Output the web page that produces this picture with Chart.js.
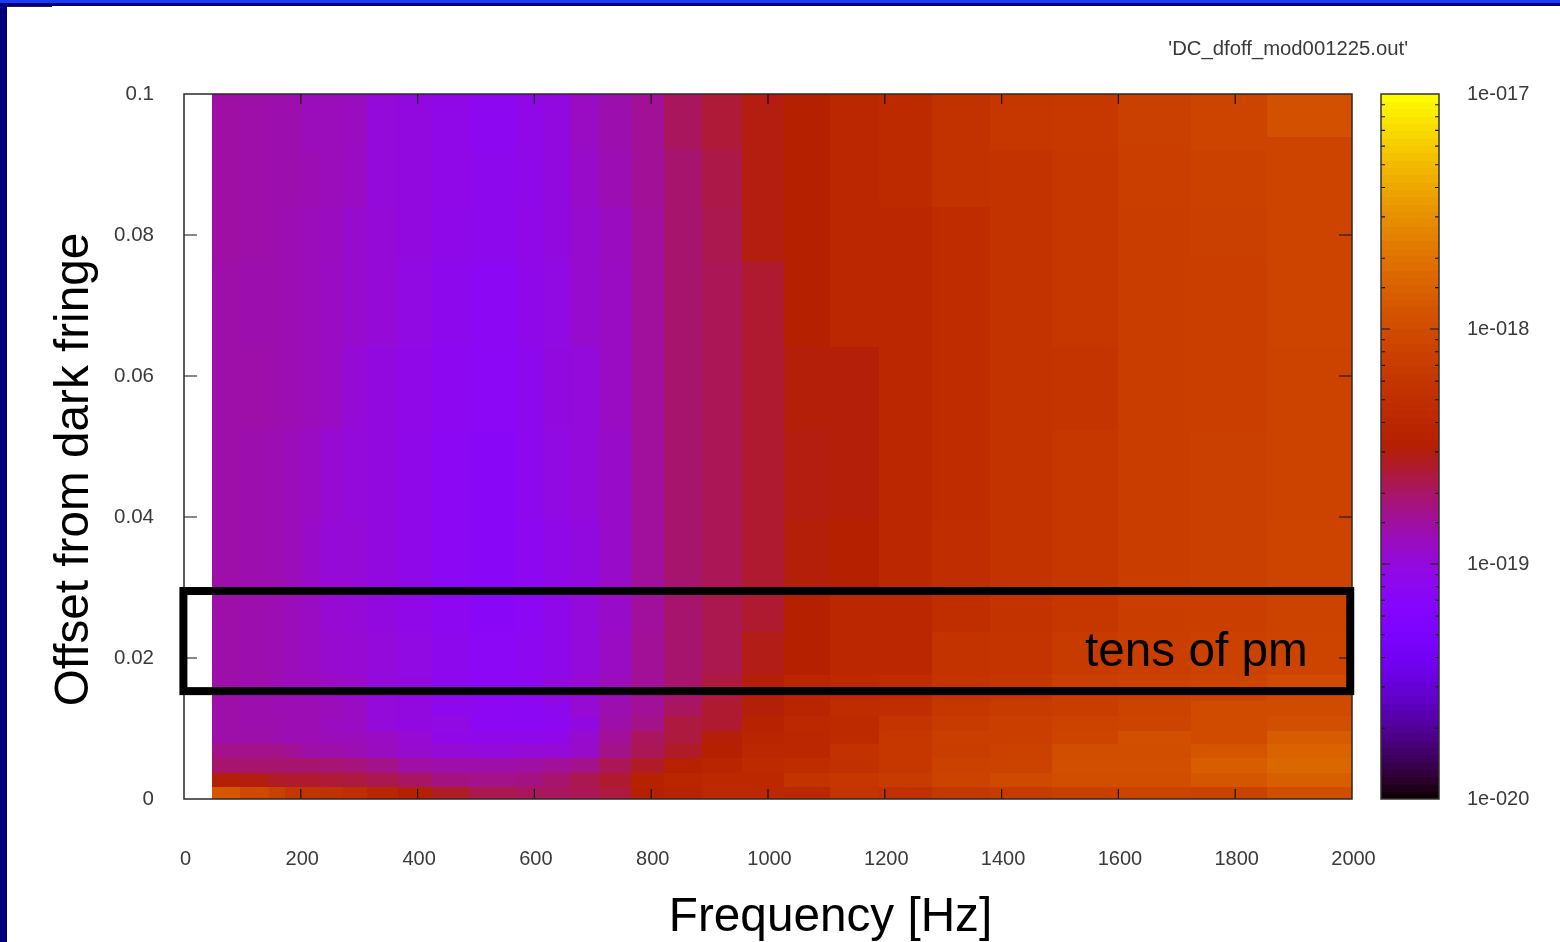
<!DOCTYPE html>
<html>
<head>
<meta charset="utf-8">
<title>DC offset scan</title>
<style>
  html, body { margin: 0; padding: 0; background: #fff; overflow: hidden; }
  #page { position: relative; width: 1560px; height: 942px; background: #fff; }
  #page canvas { position: absolute; top: 0; }
  #plot { left: 0; }
  #colorbar { left: 1360px; }
  .bar { position: absolute; }
  #topBlue { left: 0; top: 0; width: 1560px; height: 3px; background: #1c3cf4; }
  #topNavy { left: 0; top: 3px; width: 1560px; height: 3px; background: #00007c; }
  #leftNavy { left: 0; top: 3px; width: 7px; height: 939px; background: #00007c; }
  #stub { left: 7px; top: 6px; width: 45px; height: 1px; background: #223; }
</style>
<script src="https://cdn.jsdelivr.net/npm/chart.js@4"></script>
</head>
<body>
<div id="page">
  <canvas id="plot" width="1560" height="942"></canvas>
  <canvas id="colorbar" width="200" height="942"></canvas>
  <div class="bar" id="topBlue"></div>
  <div class="bar" id="topNavy"></div>
  <div class="bar" id="leftNavy"></div>
  <div class="bar" id="stub"></div>
</div>
<script>
const freqTickLabels = ["0", "200", "400", "600", "800", "1000", "1200", "1400", "1600", "1800", "2000"];
const offsetTickLabels = ["0", "0.02", "0.04", "0.06", "0.08", "0.1"];

// cell edges
const freqEdges = [48, 96, 146, 173, 202, 235, 272, 313, 366, 425, 490, 568, 615, 661, 711, 765, 822, 887, 955, 1027, 1106, 1190, 1281, 1380, 1486, 1599, 1724, 1854, 2000];
const offsetEdges = [0, 0.0017, 0.0037, 0.0058, 0.0078, 0.0097, 0.0118, 0.0139, 0.0176, 0.0237, 0.0296, 0.0396, 0.0523, 0.0641, 0.0762, 0.084, 0.0921, 0.0939, 0.1];

// position on the log colour range (percent), bottom row first
const psdLevel = [
  [70, 66, 63, 60, 59, 58, 56, 53, 50, 47.5, 45, 44, 44, 44.5, 46, 50.5, 52, 54.5, 54.5, 54, 59, 57.5, 60, 61.5, 62.5, 64, 63.5, 67],
  [49.5, 49, 47.5, 47, 47, 46.5, 46, 45, 43.5, 41.5, 41, 41.5, 43, 45, 47, 51, 53, 54.5, 54.5, 58.5, 60, 61.5, 64, 66, 67, 67, 69.5, 72],
  [43, 43, 43, 43, 43, 42.5, 42, 41, 39, 38.5, 38.5, 39, 40, 41, 44.5, 47.5, 51, 52.5, 55, 55.5, 57.5, 60, 63.5, 64, 67.5, 67.5, 71.5, 74],
  [41, 41, 41, 40, 38.5, 38.5, 37.5, 36.5, 35, 34, 33.5, 34, 34, 35.5, 41, 44.5, 47.5, 50.5, 54, 54, 58, 60, 62, 63.5, 67, 67, 69, 73],
  [38.5, 38.5, 38, 37.5, 37.5, 37, 37, 36, 34.5, 32, 31.5, 31.5, 32, 35, 40, 44, 46, 49.5, 52.5, 54, 55, 60, 62.5, 62.5, 64.5, 67.5, 66.5, 71],
  [38.5, 38, 38, 37.5, 37.5, 36.5, 36, 33.5, 33, 32.5, 30, 30, 30.5, 33, 38.5, 41, 46, 47, 51.5, 54.5, 55, 59, 61.5, 62.5, 64, 64.5, 66.5, 67.5],
  [38.5, 38, 37.5, 37.5, 37.5, 37, 36, 33.5, 33, 31, 30.5, 30, 31, 34.5, 38, 40, 44, 47, 49.5, 52.5, 55.5, 56, 60, 61, 62, 64, 66.5, 66.5],
  [38.5, 38, 37.5, 37, 37, 36, 35.5, 33.5, 33, 31, 30, 30.5, 33, 34.5, 37, 40, 43, 46, 49.5, 53, 55, 55.5, 59, 60, 62.5, 63.5, 64.5, 66.5],
  [38.5, 38, 37.5, 37, 36, 35, 34.5, 33.5, 32.5, 31, 29.5, 30.5, 31.5, 33.5, 36, 40, 43, 45, 48.5, 50.5, 54, 54, 58.5, 59, 61, 62.5, 63.5, 64.5],
  [38.5, 38, 37.5, 37, 36, 34.5, 34, 33, 32, 30.5, 29, 30, 31.5, 33.5, 35.5, 39.5, 43, 45, 47, 50.5, 54, 54, 56.5, 58.5, 60, 62, 62.5, 64],
  [38.5, 38, 37.5, 37, 35.5, 34, 34, 33, 31.5, 30, 29, 30.5, 32, 33, 35.5, 39.5, 43, 44.5, 47, 49.5, 50, 54, 56, 58.5, 60, 62, 63, 64.5],
  [38.5, 38, 37.5, 37, 36, 34.5, 33.5, 33, 31.5, 30, 29, 31, 32.5, 33.5, 35.5, 39.5, 43, 44.5, 47, 49, 49.5, 54, 55.5, 58.5, 60, 62, 63, 64],
  [38.5, 38.5, 38, 37.5, 37, 36, 34, 33, 32, 30.5, 29.5, 31, 33, 33.5, 36, 39.5, 43, 44.5, 47, 49.5, 49.5, 54, 55.5, 58.5, 59, 62, 62.5, 64],
  [38.5, 38, 38, 37.5, 37, 36, 35, 34, 32.5, 31, 30, 31.5, 32.5, 35, 36, 39.5, 43, 44.5, 47, 50.5, 53.5, 54, 55.5, 58.5, 60, 62, 62.5, 64.5],
  [39, 38.5, 38, 37.5, 37, 36.5, 35, 34, 33, 31.5, 31, 32, 33, 35, 36.5, 39.5, 43, 45, 49, 50.5, 53.5, 54, 55.5, 58.5, 60, 62, 63, 64.5],
  [39, 38.5, 38, 38, 37.5, 37, 36, 33.5, 33, 32, 31, 31.5, 33, 35.5, 37.5, 40, 43, 45.5, 49, 50.5, 54, 55, 58, 58.5, 60, 62.5, 63.5, 64.5],
  [39, 38.5, 38, 38, 37, 37, 36.5, 33.5, 33, 32, 30.5, 32, 33, 36, 38, 40, 44, 46.5, 49, 50.5, 54, 55, 58, 60, 60.5, 63, 64.5, 64.5],
  [39, 38.5, 38, 38, 37, 37, 36.5, 33.5, 33, 32, 30.5, 32, 33, 36, 38, 40, 44, 46.5, 49, 50.5, 54, 55, 58, 60, 60.5, 63, 64.5, 68]
];

const colorbarBands = 96;
const psdMin = 1e-20;
const psdMax = 1e-17;

// gnuplot default pm3d palette (rgbformulae 7,5,15)
function paletteColor(g) {
  const r = Math.sqrt(g);
  const gr = g * g * g;
  const b = Math.max(0, Math.sin(2 * Math.PI * g));
  return `rgb(${Math.round(r * 255)}, ${Math.round(gr * 255)}, ${Math.round(b * 255)})`;
}

const cellPoints = [];
psdLevel.forEach((row, j) => {
  row.forEach((level, i) => {
    cellPoints.push({
      x: (freqEdges[i] + freqEdges[i + 1]) / 2,
      y: (offsetEdges[j] + offsetEdges[j + 1]) / 2,
      x0: freqEdges[i],
      x1: freqEdges[i + 1],
      y0: offsetEdges[j],
      y1: offsetEdges[j + 1],
      level: level / 100,
    });
  });
});

const heatmapPlugin = {
  id: "heatmap",
  beforeDatasetsDraw(chart) {
    const { ctx, scales } = chart;
    chart.data.datasets[0].data.forEach((c) => {
      const left = Math.round(scales.x.getPixelForValue(c.x0));
      const right = Math.round(scales.x.getPixelForValue(c.x1));
      const top = Math.round(scales.y.getPixelForValue(c.y1));
      const bottom = Math.round(scales.y.getPixelForValue(c.y0));
      ctx.fillStyle = paletteColor(c.level);
      ctx.fillRect(left, top, right - left, bottom - top);
    });
  },
  afterDatasetsDraw(chart) {
    const { ctx, scales, chartArea } = chart;
    const { left, right, top, bottom } = chartArea;
    ctx.save();
    // inward ticks on all four sides
    ctx.strokeStyle = "#111";
    ctx.lineWidth = 1.2;
    ctx.beginPath();
    scales.x.ticks.forEach((t, i) => {
      if (i === 0 || i === scales.x.ticks.length - 1) return;
      const px = scales.x.getPixelForTick(i);
      ctx.moveTo(px, bottom);
      ctx.lineTo(px, bottom - 10);
      ctx.moveTo(px, top);
      ctx.lineTo(px, top + 10);
    });
    scales.y.ticks.forEach((t, i) => {
      if (i === 0 || i === scales.y.ticks.length - 1) return;
      const py = scales.y.getPixelForTick(i);
      ctx.moveTo(left, py);
      ctx.lineTo(left + 13, py);
      ctx.moveTo(right, py);
      ctx.lineTo(right - 13, py);
    });
    ctx.stroke();
    ctx.strokeStyle = "#2a2a2a";
    ctx.lineWidth = 1.5;
    ctx.strokeRect(left, top, right - left, bottom - top);

    // highlighted band
    ctx.strokeStyle = "#000";
    ctx.lineWidth = 8;
    const bx0 = scales.x.getPixelForValue(-1);
    const bx1 = scales.x.getPixelForValue(1997);
    const by0 = scales.y.getPixelForValue(0.0295);
    const by1 = scales.y.getPixelForValue(0.0153);
    ctx.strokeRect(bx0, by0, bx1 - bx0, by1 - by0);

    // labels
    ctx.fillStyle = "#000";
    ctx.textBaseline = "alphabetic";
    ctx.font = '47.7px "Liberation Sans"';
    ctx.textAlign = "left";
    ctx.fillText("tens of pm", 1085, 666);
    ctx.textAlign = "center";
    ctx.fillText("Frequency [Hz]", 830.5, 931);
    ctx.save();
    ctx.translate(88, 469.5);
    ctx.rotate(-Math.PI / 2);
    ctx.fillText("Offset from dark fringe", 0, 0);
    ctx.restore();
    ctx.fillStyle = "#3a3a3a";
    ctx.font = '20.3px "Liberation Sans"';
    ctx.textAlign = "right";
    ctx.fillText("'DC_dfoff_mod001225.out'", 1408, 55);
    ctx.restore();
  },
};

new Chart(document.getElementById("plot"), {
  type: "scatter",
  data: {
    datasets: [{ label: "DC_dfoff_mod001225.out", data: cellPoints, pointRadius: 0, showLine: false }],
  },
  options: {
    responsive: false,
    animation: false,
    devicePixelRatio: 1,
    layout: { padding: { left: 0, top: 94, right: 208, bottom: 0 } },
    plugins: { legend: { display: false }, tooltip: { enabled: false } },
    scales: {
      x: {
        type: "linear",
        min: 0,
        max: 2000,
        grid: { display: false, drawTicks: false },
        border: { display: false },
        afterFit: (scale) => { scale.height = 143; },
        ticks: {
          stepSize: 200,
          autoSkip: false,
          maxRotation: 0,
          padding: 48,
          labelOffset: 1.5,
          color: "#3a3a3a",
          font: { family: "Liberation Sans", size: 20 },
          callback: (v, i) => freqTickLabels[i],
        },
      },
      y: {
        type: "linear",
        min: 0,
        max: 0.1,
        grid: { display: false, drawTicks: false },
        border: { display: false },
        afterFit: (scale) => { scale.width = 184; },
        ticks: {
          stepSize: 0.02,
          autoSkip: false,
          padding: 30,
          color: "#3a3a3a",
          font: { family: "Liberation Sans", size: 20.5 },
          callback: (v, i) => offsetTickLabels[i],
        },
      },
    },
  },
  plugins: [heatmapPlugin],
});

// colour key as a second chart with its own log axis
const bandPoints = [];
for (let b = 0; b < colorbarBands; b++) {
  bandPoints.push({ x: 0.5, y: psdMin * Math.pow(psdMax / psdMin, (b + 0.5) / colorbarBands), g: (b + 0.5) / colorbarBands });
}

const isDecade = (v) => Math.abs(Math.log10(v) - Math.round(Math.log10(v))) < 1e-6;

const colorbarPlugin = {
  id: "colorbarBands",
  beforeDatasetsDraw(chart) {
    const { ctx, scales, chartArea } = chart;
    const step = Math.pow(psdMax / psdMin, 1 / colorbarBands);
    chart.data.datasets[0].data.forEach((p) => {
      const y0 = scales.y.getPixelForValue(p.y * Math.sqrt(step));
      const y1 = scales.y.getPixelForValue(p.y / Math.sqrt(step));
      ctx.fillStyle = paletteColor(p.g);
      ctx.fillRect(chartArea.left, Math.floor(y0), chartArea.right - chartArea.left, Math.ceil(y1) - Math.floor(y0));
    });
  },
  afterDatasetsDraw(chart) {
    const { ctx, scales, chartArea } = chart;
    const { left, right, top, bottom } = chartArea;
    ctx.save();
    ctx.strokeStyle = "#111";
    ctx.lineWidth = 1.2;
    ctx.beginPath();
    scales.y.ticks.forEach((t, i) => {
      if (t.value <= psdMin * 1.001 || t.value >= psdMax * 0.999) return;
      const len = isDecade(t.value) ? 9 : 4;
      const py = scales.y.getPixelForTick(i);
      ctx.moveTo(left, py);
      ctx.lineTo(left + len, py);
      ctx.moveTo(right, py);
      ctx.lineTo(right - len, py);
    });
    ctx.stroke();
    ctx.strokeStyle = "#333";
    ctx.lineWidth = 1.5;
    ctx.strokeRect(left, top, right - left, bottom - top);
    ctx.restore();
  },
};

new Chart(document.getElementById("colorbar"), {
  type: "scatter",
  data: { datasets: [{ label: "colour key", data: bandPoints, pointRadius: 0, showLine: false }] },
  options: {
    responsive: false,
    animation: false,
    devicePixelRatio: 1,
    layout: { padding: { left: 21, top: 94, right: 0, bottom: 143 } },
    plugins: { legend: { display: false }, tooltip: { enabled: false } },
    scales: {
      x: { type: "linear", min: 0, max: 1, display: false },
      y: {
        type: "logarithmic",
        position: "right",
        min: psdMin,
        max: psdMax,
        grid: { display: false, drawTicks: false },
        border: { display: false },
        afterFit: (scale) => { scale.width = 121; },
        ticks: {
          autoSkip: false,
          padding: 28,
          color: "#3a3a3a",
          font: { family: "Liberation Sans", size: 20 },
          callback: (v) => (isDecade(v) ? "1e-0" + -Math.round(Math.log10(v)) : ""),
        },
      },
    },
  },
  plugins: [colorbarPlugin],
});
</script>
</body>
</html>
